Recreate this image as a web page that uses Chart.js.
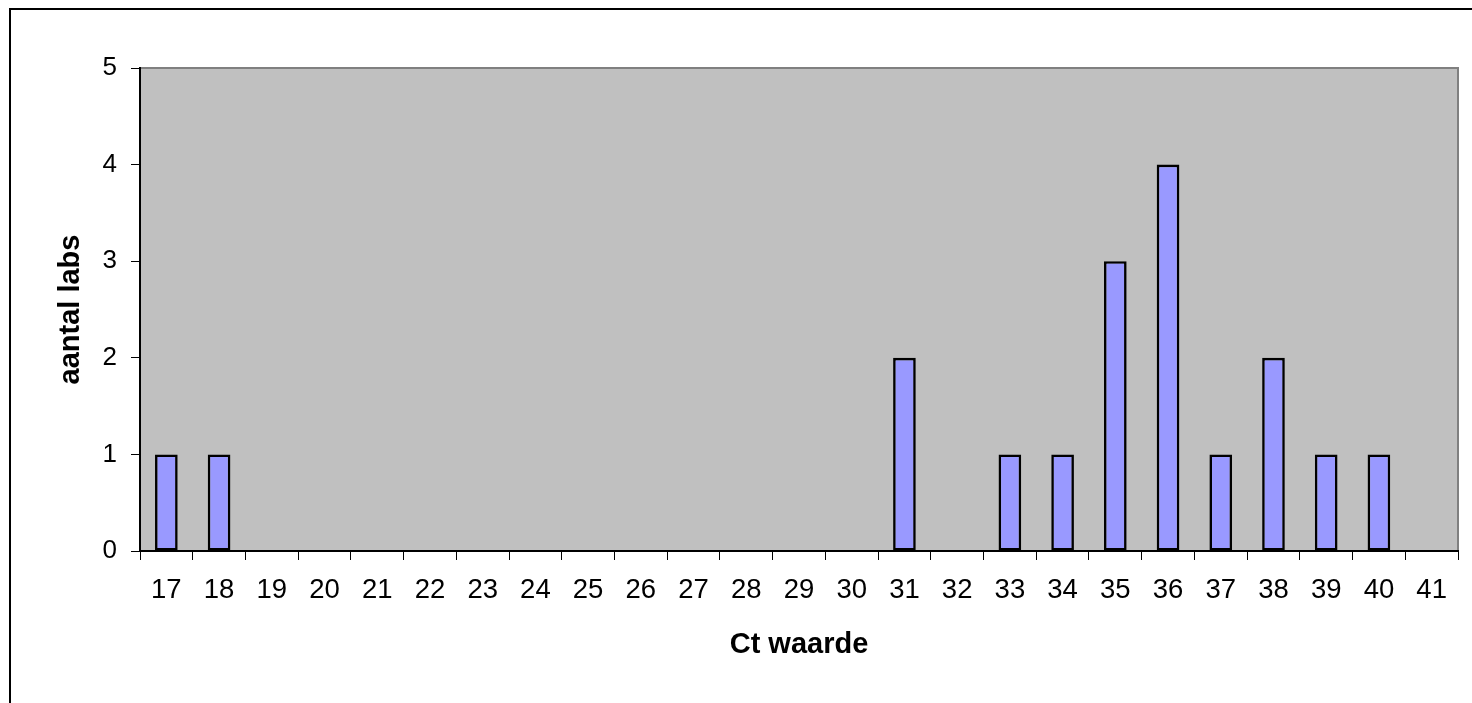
<!DOCTYPE html>
<html>
<head>
<meta charset="utf-8">
<script src="https://cdn.jsdelivr.net/npm/chart.js@4/dist/chart.umd.min.js"></script>
<style>
html,body{margin:0;padding:0;background:#fff;}
#wrap{width:1472px;height:703px;position:relative;}
</style>
</head>
<body>
<div id="wrap"><canvas id="c" width="1472" height="703"></canvas></div>
<script>
const categories = ['17','18','19','20','21','22','23','24','25','26','27','28','29','30','31','32','33','34','35','36','37','38','39','40','41'];
const counts = [1,1,0,0,0,0,0,0,0,0,0,0,0,0,2,0,1,1,3,4,1,2,1,1,0];
const yTicks = [0,1,2,3,4,5];
const xTitle = 'Ct waarde';
const yTitle = 'aantal labs';

const FONT = "'Liberation Sans', Arial, sans-serif";

const framePlugin = {
  id: 'frame',
  beforeDraw(chart) {
    const {ctx, chartArea: a} = chart;
    ctx.save();
    ctx.fillStyle = '#ffffff';
    ctx.fillRect(0, 0, chart.width, chart.height);
    ctx.strokeStyle = '#000000';
    ctx.lineWidth = 2;
    ctx.beginPath();
    ctx.moveTo(10, chart.height);
    ctx.lineTo(10, 9);
    ctx.lineTo(chart.width, 9);
    ctx.stroke();
    ctx.fillStyle = '#C0C0C0';
    ctx.fillRect(a.left, a.top, a.right - a.left, a.bottom - a.top);
    ctx.strokeStyle = '#808080';
    ctx.lineWidth = 2;
    ctx.beginPath();
    ctx.moveTo(a.left, a.top);
    ctx.lineTo(a.right, a.top);
    ctx.lineTo(a.right, a.bottom);
    ctx.stroke();
    ctx.restore();
  }
};

new Chart(document.getElementById('c'), {
  type: 'bar',
  data: {
    labels: categories,
    datasets: [{
      data: counts,
      backgroundColor: '#9999FF',
      borderColor: '#000000',
      borderWidth: (c) => (c.raw === 0 ? 0 : 2.6),
      borderSkipped: false,
      categoryPercentage: 1,
      barPercentage: 0.43
    }]
  },
  options: {
    responsive: false,
    animation: false,
    devicePixelRatio: 1,
    layout: { padding: { top: 68, right: 14, left: 0, bottom: 0 } },
    plugins: { legend: { display: false }, tooltip: { enabled: false } },
    scales: {
      x: {
        offset: true,
        grid: { display: true, drawOnChartArea: false, drawTicks: true, tickLength: 9, color: '#000000', offset: true },
        border: { display: true, color: '#000000', width: 2 },
        ticks: { color: '#000000', font: { family: FONT, size: 27.5 }, padding: 14, maxRotation: 0, autoSkip: false },
        title: { display: true, text: xTitle, color: '#000000', font: { family: FONT, size: 29, weight: 'bold' }, padding: { top: 0, bottom: 41 } },
        afterFit(s) { s.height = 152; }
      },
      y: {
        min: 0, max: 5,
        afterBuildTicks(s) { s.ticks = yTicks.map(v => ({ value: v })); },
        grid: { display: true, drawOnChartArea: false, drawTicks: true, tickLength: 9, color: '#000000' },
        border: { display: true, color: '#000000', width: 2 },
        ticks: { color: '#000000', font: { family: FONT, size: 26 }, padding: 14 },
        title: { display: true, text: yTitle, color: '#000000', font: { family: FONT, size: 29, weight: 'bold' }, padding: { top: 54, bottom: 0 } },
        afterFit(s) { s.width = 140; }
      }
    }
  },
  plugins: [framePlugin]
});
</script>
</body>
</html>
